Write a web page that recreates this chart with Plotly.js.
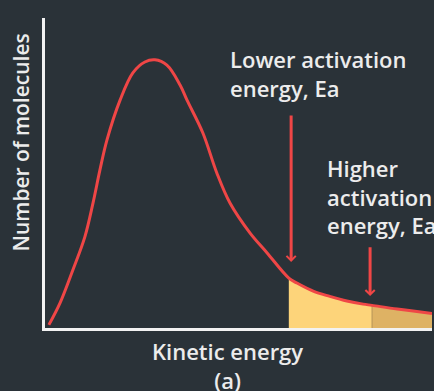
<!DOCTYPE html>
<html><head><meta charset="utf-8">
<script src="https://cdn.plot.ly/plotly-3.0.1.min.js"></script>
<style>html,body{margin:0;padding:0;background:#2a3238;}</style>
</head><body><div id="chart" style="width:434px;height:391px;"></div>
<script>
// Maxwell-Boltzmann style distribution (arbitrary units)
const energy =    [0.10, 0.39, 0.72, 1.03, 1.24, 1.42, 1.60, 1.94, 2.27, 2.58, 2.84, 3.15, 3.49, 3.67, 4.08, 4.44, 4.78, 5.30, 5.74, 6.30, 6.51, 6.93, 7.36, 7.80, 8.22, 8.45, 9.10, 10.0];
const molecules = [1.0,  8.1,  18.7, 29.4, 40.3, 51.0, 60.6, 73.5, 82.3, 85.8, 86.5, 84.8, 78.4, 73.5, 62.9, 50.0, 40.3, 30.6, 24.2, 16.1, 14.5, 11.9, 10.2, 8.7,  7.7,  7.3,  6.1,  4.7];
const lowerEa = 6.30;
const higherEa = 8.45;
// arrow positions: [x, tip y, tail y]
const lowerArrow = [6.36, 21.3, 69.0];
const higherArrow = [8.40, 10.3, 26.5];
const labels = {
  lower: 'Lower activation<br>energy, Ea',
  higher: 'Higher<br>activation<br>energy, Ea',
  xTitle: 'Kinetic energy<br>(a)',
  yTitle: 'Number of molecules'
};

const seg1x = [], seg1y = [], seg2x = [], seg2y = [];
energy.forEach((e, i) => {
  if (e >= lowerEa && e <= higherEa) { seg1x.push(e); seg1y.push(molecules[i]); }
  if (e >= higherEa) { seg2x.push(e); seg2y.push(molecules[i]); }
});
const yAtHigher = molecules[energy.indexOf(higherEa)];

const font = {family: 'Open Sans, sans-serif', size: 22, color: '#ececec', weight: 600};

const traces = [
  {x: seg1x, y: seg1y, type: 'scatter', mode: 'lines', fill: 'tozeroy',
   fillcolor: '#fdd47a', line: {width: 0, shape: 'spline', color: '#fdd47a'}, hoverinfo: 'skip'},
  {x: seg2x, y: seg2y, type: 'scatter', mode: 'lines', fill: 'tozeroy',
   fillcolor: '#deb264', line: {width: 0, shape: 'spline', color: '#deb264'}, hoverinfo: 'skip'},
  {x: [higherEa, higherEa], y: [0, yAtHigher], type: 'scatter', mode: 'lines',
   line: {width: 1, color: '#b8955a'}, hoverinfo: 'skip'},
  {x: energy, y: molecules, type: 'scatter', mode: 'lines',
   line: {width: 3, shape: 'spline', color: '#ef4646'}}
];

const layout = {
  width: 434, height: 391,
  margin: {l: 45, r: 2, t: 18, b: 63},
  paper_bgcolor: '#2a3238', plot_bgcolor: '#2a3238',
  showlegend: false,
  xaxis: {range: [0, 10], showline: true, linecolor: '#f2f2f2', linewidth: 3,
          showgrid: false, zeroline: false, showticklabels: false, ticks: ''},
  yaxis: {range: [0, 100], showline: true, linecolor: '#f2f2f2', linewidth: 3,
          showgrid: false, zeroline: false, showticklabels: false, ticks: ''},
  annotations: [
    {x: lowerArrow[0], y: lowerArrow[1], ax: lowerArrow[0], ay: lowerArrow[2],
     xref: 'x', yref: 'y', axref: 'x', ayref: 'y', text: '', showarrow: true,
     arrowhead: 4, arrowsize: 0.6, arrowwidth: 3, arrowcolor: '#ef4646'},
    {x: higherArrow[0], y: higherArrow[1], ax: higherArrow[0], ay: higherArrow[2],
     xref: 'x', yref: 'y', axref: 'x', ayref: 'y', text: '', showarrow: true,
     arrowhead: 4, arrowsize: 0.6, arrowwidth: 3, arrowcolor: '#ef4646'},
    {x: 4.73, y: 82, xref: 'x', yref: 'y', text: labels.lower, showarrow: false,
     xanchor: 'left', yanchor: 'middle', align: 'left', font: font},
    {x: 7.24, y: 42.5, xref: 'x', yref: 'y', text: labels.higher, showarrow: false,
     xanchor: 'left', yanchor: 'middle', align: 'left', font: font},
    {x: (227 - 45) / 387, y: -0.122, xref: 'paper', yref: 'paper', text: labels.xTitle,
     showarrow: false, xanchor: 'center', yanchor: 'middle', align: 'center', font: font},
    {x: (20.5 - 45) / 387, y: 0.597, xref: 'paper', yref: 'paper', text: labels.yTitle,
     showarrow: false, textangle: -90, xanchor: 'center', yanchor: 'middle', font: Object.assign({}, font, {size: 21})}
  ]
};

Plotly.newPlot('chart', traces, layout, {displayModeBar: false, staticPlot: true});
</script>
</body></html>
